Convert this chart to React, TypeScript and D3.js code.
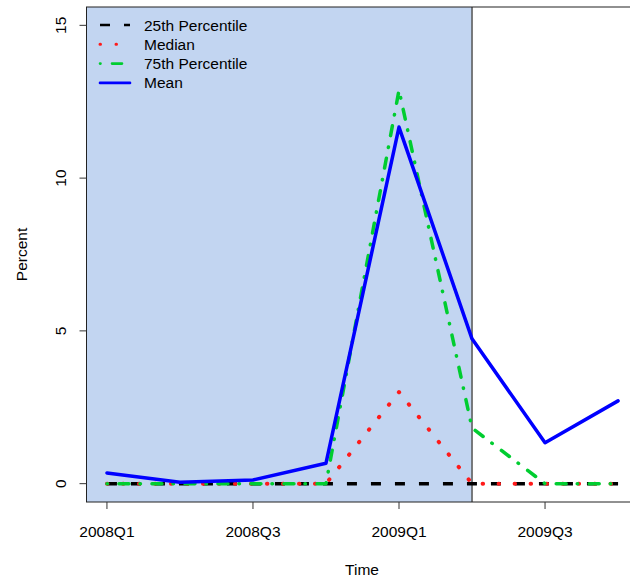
import { FC, useEffect, useRef } from 'react';
import * as d3 from 'd3';

// quarters along the x axis
const quarters = ['2008Q1', '2008Q2', '2008Q3', '2008Q4', '2009Q1', '2009Q2', '2009Q3', '2009Q4'];
const tickQuarters = ['2008Q1', '2008Q3', '2009Q1', '2009Q3'];
const yTicks = [0, 5, 10, 15];

const p25 = [0, 0, 0, 0, 0, 0, 0, 0];
const median = [0, 0, 0, 0, 3.0, 0, 0, 0];
const p75 = [0, 0, 0, 0, 12.88, 1.82, 0, 0];
const mean = [0.35, 0.05, 0.12, 0.67, 11.67, 4.74, 1.34, 2.71];

// last quarter inside the shaded block
const shadeEnd = '2009Q2';

const series = [
  { name: '25th Percentile', values: p25, color: '#000000', dash: '10 14', cap: 'butt', width: 3.5 },
  { name: 'Median', values: median, color: '#ff1a1a', dash: '0.5 15.5', cap: 'round', width: 4 },
  { name: '75th Percentile', values: p75, color: '#00cd30', dash: '0.5 11.5 10 11', cap: 'round', width: 3.5 },
  { name: 'Mean', values: mean, color: '#0000ff', dash: null, cap: 'round', width: 3.5 },
];

const Chart: FC = () => {
  const svgRef = useRef<SVGSVGElement>(null);

  useEffect(() => {
    if (!svgRef.current) return;
    const svg = d3.select(svgRef.current);
    svg.selectAll('*').remove();

    const font = 'Liberation Sans, Arial, Helvetica, sans-serif';
    const left = 86.5, right = 638.5, top = 7, bottom = 502;

    // index scale with R-style 4% padding
    const x = d3.scaleLinear().domain([-0.28, quarters.length - 1 + 0.28]).range([left, right]);
    const y = d3.scaleLinear().domain([-0.6, 15.6]).range([bottom, top]);

    // shaded period
    svg.append('rect')
      .attr('x', left)
      .attr('y', top)
      .attr('width', x(quarters.indexOf(shadeEnd)) - left)
      .attr('height', bottom - top)
      .attr('fill', '#c2d5f1');

    svg.append('line')
      .attr('x1', x(quarters.indexOf(shadeEnd)))
      .attr('x2', x(quarters.indexOf(shadeEnd)))
      .attr('y1', top)
      .attr('y2', bottom)
      .attr('stroke', '#555')
      .attr('stroke-width', 1.5);

    // lines
    series.forEach(s => {
      const line = d3.line<number>()
        .x((_, i) => x(i))
        .y(d => y(d));
      const path = svg.append('path')
        .datum(s.values)
        .attr('d', line)
        .attr('fill', 'none')
        .attr('stroke', s.color)
        .attr('stroke-width', s.width)
        .attr('stroke-linecap', s.cap)
        .attr('stroke-linejoin', 'round');
      if (s.dash) path.attr('stroke-dasharray', s.dash);
    });

    // box
    svg.append('rect')
      .attr('x', left)
      .attr('y', top)
      .attr('width', right - left)
      .attr('height', bottom - top)
      .attr('fill', 'none')
      .attr('stroke', '#222')
      .attr('stroke-width', 1);

    // x axis
    tickQuarters.forEach(q => {
      const xi = x(quarters.indexOf(q));
      svg.append('line')
        .attr('x1', xi).attr('x2', xi)
        .attr('y1', bottom).attr('y2', bottom + 7)
        .attr('stroke', '#333');
      svg.append('text')
        .attr('x', xi)
        .attr('y', 537)
        .attr('text-anchor', 'middle')
        .style('font-family', font)
        .style('font-size', '15.5px')
        .text(q);
    });

    // y axis
    yTicks.forEach(t => {
      svg.append('line')
        .attr('x1', left).attr('x2', left - 7)
        .attr('y1', y(t)).attr('y2', y(t))
        .attr('stroke', '#333');
      svg.append('text')
        .attr('transform', `translate(66,${y(t)}) rotate(-90)`)
        .attr('text-anchor', 'middle')
        .style('font-family', font)
        .style('font-size', '15.5px')
        .text(t);
    });

    // axis titles
    svg.append('text')
      .attr('x', (left + right) / 2 - 0.5)
      .attr('y', 575)
      .attr('text-anchor', 'middle')
      .style('font-family', font)
      .style('font-size', '15.5px')
      .text('Time');

    svg.append('text')
      .attr('transform', `translate(27,${(top + bottom) / 2}) rotate(-90)`)
      .attr('text-anchor', 'middle')
      .style('font-family', font)
      .style('font-size', '15.5px')
      .text('Percent');

    // legend
    series.forEach((s, i) => {
      const ly = 25 + i * 19.3;
      const seg = svg.append('line')
        .attr('x1', 100).attr('x2', 130)
        .attr('y1', ly).attr('y2', ly)
        .attr('stroke', s.color)
        .attr('stroke-width', s.dash ? s.width * 0.75 : s.width * 0.75)
        .attr('stroke-linecap', s.cap);
      if (s.dash) seg.attr('stroke-dasharray', s.dash);
      svg.append('text')
        .attr('x', 144)
        .attr('y', ly + 5.5)
        .style('font-family', font)
        .style('font-size', '15.5px')
        .text(s.name);
    });
  }, []);

  return <svg ref={svgRef} width={630} height={579} style={{ display: 'block' }} />;
};

export default function App() {
  return (
    <div style={{ position: 'absolute', left: 0, top: 0, background: '#fff' }}>
      <Chart />
    </div>
  );
}
